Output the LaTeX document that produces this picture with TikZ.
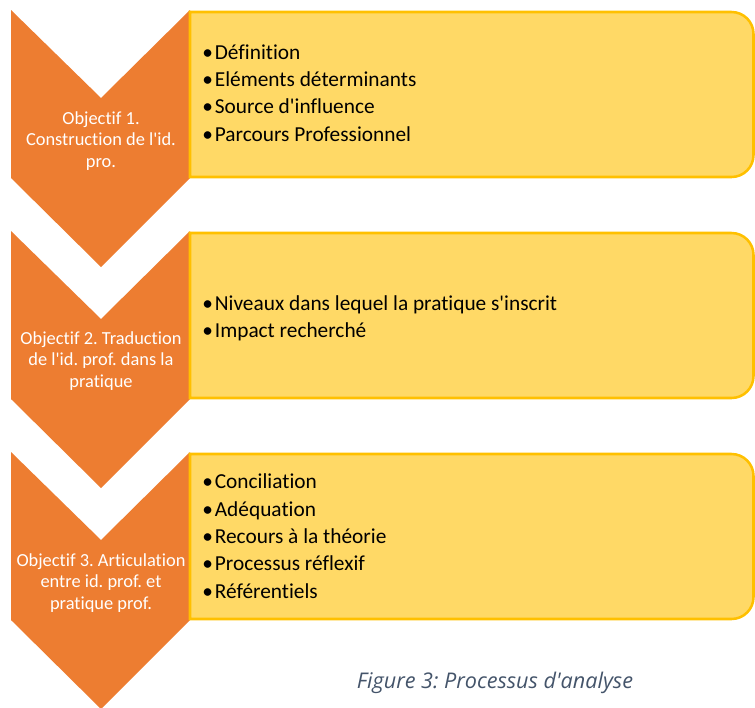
\documentclass[tikz,border=0pt]{standalone}
\usepackage{fontspec}
\setmainfont{Carlito}[Ligatures={TeXOff,CommonOff}]
\newfontfamily\capfont{Open Sans}[Ligatures={TeXOff,CommonOff}]
\definecolor{chevorange}{HTML}{ED7D31}
\definecolor{boxfill}{HTML}{FFD966}
\definecolor{boxline}{HTML}{FFC000}
\definecolor{capcol}{HTML}{44546A}
\newcommand{\itm}{•\hspace{1.5pt}}
\frenchspacing
\begin{document}
\begin{tikzpicture}[x=0.75pt,y=-0.75pt,
  chev/.style={fill=chevorange,draw=none},
  itembox/.style={fill=boxfill,draw=boxline,line width=1.9pt},
  chevtext/.style={text=white,align=center,inner sep=0pt,font=\frenchspacing\fontsize{13.8}{16}\selectfont},
  itemtext/.style={text=black,align=left,anchor=west,inner sep=0pt,font=\frenchspacing\fontsize{16}{20.5}\selectfont},
  captext/.style={text=capcol,inner sep=0pt,font=\frenchspacing\capfont\itshape\fontsize{16.2}{19}\selectfont}]
\useasboundingbox (0,0) rectangle (755,707);
\foreach \t in {10,231,452}{
  \fill[chev] (11,\t) -- (101,\t+88) -- (190,\t) -- (190,\t+168) -- (101,\t+257) -- (11,\t+168) -- cycle;
  \draw[itembox] (190,\t+2) -- (731.5,\t+2) arc[start angle=90,end angle=0,radius=16.5pt]
     -- (753.5,\t+145) arc[start angle=0,end angle=-90,radius=16.5pt] -- (190,\t+167) -- cycle;
}
\node[chevtext] (c1) at (101,141) {Objectif 1.\\Construction de l'id.\\pro.};
\node[chevtext] (c2) at (101,361) {Objectif 2. Traduction\\de l'id. prof. dans la\\pratique};
\node[chevtext] (c3) at (101,583) {Objectif 3. Articulation\\entre id. prof. et\\pratique prof.};
\node[itemtext] (b1) at (202,93) {\itm Définition\\\itm Eléments déterminants\\\itm Source d'influence\\\itm Parcours Professionnel};
\node[itemtext] (b2) at (202,318.5) {\itm Niveaux dans lequel la pratique s'inscrit\\\itm Impact recherché};
\node[itemtext] (b3) at (202,536) {\itm Conciliation\\\itm Adéquation\\\itm Recours à la théorie\\\itm Processus réflexif\\\itm Référentiels};
\node[captext] (cap) at (495,683) {Figure 3: Processus d'analyse};
\end{tikzpicture}
\end{document}
